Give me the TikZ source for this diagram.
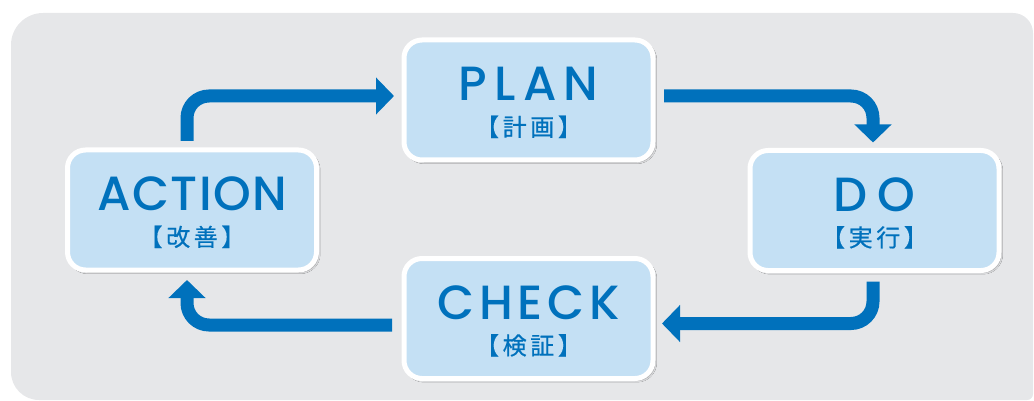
\documentclass[tikz,border=0pt]{standalone}
\usepackage{fontspec}
\newfontfamily\headfont{Poppins Medium}
\newfontfamily\jpfont{Noto Sans CJK JP}[FakeBold=0.6]
\usetikzlibrary{arrows.meta,shadows.blur}
\definecolor{pdcablue}{HTML}{0071BC}
\definecolor{boxblue}{HTML}{C4E0F4}
\definecolor{panelgray}{HTML}{E6E7E9}
\tikzset{
  phasebox/.style={draw=white, line width=5pt, fill=boxblue,
    rounded corners=18pt, minimum width=249pt, minimum height=120pt,
    blur shadow={shadow xshift=2pt, shadow yshift=-2pt,
      shadow blur steps=6, shadow opacity=35}},
  phasename/.style={anchor=base, inner sep=0pt, text=pdcablue,
    text height=34pt, text depth=0pt,
    font=\headfont\fontsize{48}{48}\selectfont},
  phasejp/.style={anchor=base, inner sep=0pt, text=pdcablue,
    text height=19pt, text depth=2pt,
    font=\jpfont\fontsize{24}{24}\selectfont\addfontfeatures{LetterSpace=15}},
  cyclearrow/.style={draw=pdcablue, line width=13pt, rounded corners=22pt,
    -{Triangle[length=18pt,width=36pt]}}
}
\begin{document}
\begin{tikzpicture}[x=1pt,y=-1pt]
  \useasboundingbox (0,0) rectangle (1034,401);
  % panel
  \fill[panelgray] (11,200) [rounded corners=32pt] -- (11,13)
    [rounded corners=20pt] -- (1033,13) [rounded corners=6pt] -- (1033,400)
    [rounded corners=28pt] -- (11,400) [sharp corners] -- cycle;
  % phases
  \node[phasebox] (plan) at (528.5,100) {};
  \node[phasebox] (do) at (874.5,210.5) {};
  \node[phasebox] (check) at (528.5,318.5) {};
  \node[phasebox] (action) at (192,210) {};
  \node[phasename] (plan-en) at ([yshift=-1pt]plan.center)
    {\addfontfeatures{LetterSpace=15}PLAN};
  \node[phasejp] (plan-jp) at ([yshift=-36pt]plan.center) {【計画】};
  \node[phasename] (do-en) at ([yshift=-1pt]do.center)
    {\addfontfeatures{LetterSpace=20}DO};
  \node[phasejp] (do-jp) at ([yshift=-36pt]do.center) {【実行】};
  \node[phasename] (check-en) at ([yshift=-1pt]check.center)
    {\addfontfeatures{LetterSpace=10}CHECK};
  \node[phasejp] (check-jp) at ([yshift=-36pt]check.center) {【検証】};
  \node[phasename] (action-en) at ([yshift=-1pt]action.center)
    {\addfontfeatures{LetterSpace=3}ACTION};
  \node[phasejp] (action-jp) at ([yshift=-36pt]action.center) {【改善】};
  % cycle
  \draw[cyclearrow] ([xshift=-5pt,yshift=6.5pt]action.north)
    |- ([xshift=-7.5pt,yshift=4pt]plan.west);
  \draw[cyclearrow] ([xshift=8.5pt,yshift=4pt]plan.east)
    -| ([xshift=-1.5pt,yshift=5.5pt]do.north);
  \draw[cyclearrow] ([xshift=-1.5pt,yshift=-8.5pt]do.south)
    |- ([xshift=6.5pt,yshift=-5pt]check.east);
  \draw[cyclearrow] ([xshift=-9.5pt,yshift=-6.5pt]check.west)
    -| ([xshift=-5pt,yshift=-7.5pt]action.south);
\end{tikzpicture}
\end{document}
